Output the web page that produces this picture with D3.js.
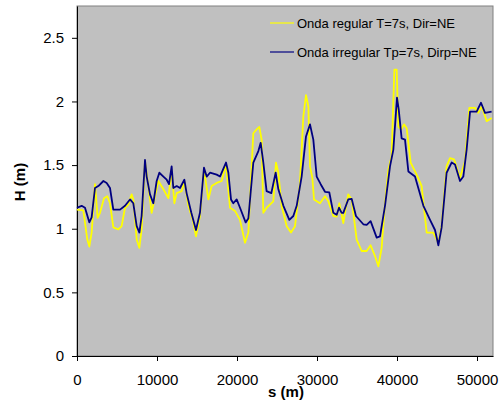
<html>
<script src="https://cdnjs.cloudflare.com/ajax/libs/d3/7.8.5/d3.min.js"></script>
<body style="margin:0;background:white">
<div id="graph"></div>
</body>
<script>
// distance along coast (m) and wave height (m)
var sRegular = [0,790,1290,1540,1830,2250,2580,2875,3375,3790,4125,4540,5170,5580,6000,6420,6830,7040,7460,7790,8080,8500,8920,9330,9750,10170,10800,11420,11830,12170,12460,13080,13420,13920,14460,14875,15370,15875,16420,16830,17460,18080,18625,19125,19750,20375,21000,21420,22040,22460,22790,23080,23290,23700,24540,24870,25170,25580,26210,26750,27250,27875,28290,28625,28920,29125,29420,29625,30375,31000,31420,32040,32460,32790,33290,33500,33900,34330,34960,35580,36210,36700,37250,37670,38080,38500,38920,39330,39670,39960,40170,40500,40875,41210,41710,42460,43080,43710,44540,45170,45580,46200,46625,47125,47875,48500,49040,49750,50170,50600,51210,51830];
var hRegular = [1.15,1.145,0.915,0.86,0.97,1.35,1.085,1.125,1.24,1.255,1.20,1.01,0.995,1.02,1.165,1.19,1.27,1.23,0.915,0.85,0.995,1.53,1.335,1.125,1.255,1.375,1.31,1.24,1.465,1.20,1.28,1.295,1.375,1.18,1.07,0.94,1.10,1.465,1.23,1.335,1.36,1.375,1.505,1.165,1.14,1.07,0.89,0.97,1.75,1.78,1.80,1.70,1.125,1.165,1.215,1.52,1.44,1.18,1.02,0.97,1.02,1.36,1.88,2.05,1.96,1.49,1.40,1.23,1.20,1.255,1.215,1.10,1.095,1.20,1.045,1.125,1.27,1.23,0.915,0.825,0.825,0.87,0.785,0.705,0.85,1.20,1.465,1.57,2.25,2.25,1.80,1.78,1.82,1.79,1.52,1.425,1.335,0.97,0.97,0.89,1.02,1.49,1.555,1.545,1.40,1.53,1.95,1.95,1.91,1.96,1.845,1.87];

var sIrregular = [0,580,1000,1540,1830,2250,2670,3300,3710,4125,4540,5375,6000,6625,7040,7460,7800,8080,8500,8710,9125,9540,9960,10290,10800,11210,11500,11830,12040,12460,12875,13420,13700,14290,14875,15370,15875,16210,16625,17460,17875,18625,18920,19250,19540,19960,20375,21080,21420,22040,22670,22960,23290,23700,24290,24830,25170,25800,26540,27040,27460,28080,28625,29125,29540,29960,30460,31000,31540,32040,32460,32750,33080,33290,33900,34330,34870,35790,36210,36700,37460,37875,38500,39125,39540,40000,40210,40580,41000,41420,42250,43300,44130,44750,45170,45580,46200,46830,47250,47875,48290,48700,49130,49960,50500,51000,51830];
var hIrregular = [1.165,1.18,1.165,1.05,1.09,1.32,1.335,1.375,1.36,1.32,1.15,1.15,1.18,1.23,1.20,1.02,0.97,1.10,1.54,1.41,1.27,1.20,1.375,1.44,1.41,1.385,1.35,1.49,1.32,1.335,1.32,1.385,1.28,1.125,0.99,1.125,1.48,1.41,1.44,1.425,1.41,1.52,1.44,1.23,1.20,1.23,1.165,1.05,1.08,1.52,1.61,1.675,1.52,1.295,1.28,1.44,1.31,1.18,1.07,1.10,1.18,1.41,1.725,1.82,1.70,1.41,1.35,1.29,1.285,1.125,1.11,1.165,1.125,1.125,1.23,1.235,1.10,1.035,1.03,1.06,0.93,0.94,1.18,1.49,1.62,2.03,1.94,1.71,1.70,1.45,1.41,1.18,1.07,0.99,0.87,1.01,1.44,1.52,1.505,1.375,1.41,1.62,1.92,1.92,1.99,1.91,1.92];

var xTicks = [0,10000,20000,30000,40000,50000];
var yTicks = [0,0.5,1,1.5,2,2.5];
var names = ["Onda regular T=7s, Dir=NE", "Onda irregular Tp=7s, Dirp=NE"];
var colors = ["#ffff00", "#000080"];

var W = 501, H = 414;
var m = {left: 77, right: 8, top: 6, bottom: 58};
var FONT = "Liberation Sans, Arial, sans-serif";

var svg = d3.select("#graph").append("svg")
    .attr("width", W).attr("height", H)
    .style("font-family", FONT);

var X = d3.scaleLinear().domain([0, 52000]).range([m.left, W - m.right]);
var Y = d3.scaleLinear().domain([0, 2.75]).range([H - m.bottom, m.top]);

// plot area
svg.append("rect")
    .attr("x", X(0)).attr("y", Y(2.75))
    .attr("width", X(52000) - X(0)).attr("height", Y(0) - Y(2.75))
    .style("fill", "#c0c0c0").style("stroke", "#808080").style("stroke-width", 1);

var xAxis = svg.append("g")
    .attr("transform", "translate(0," + Y(0) + ")")
    .call(d3.axisBottom(X).tickValues(xTicks).tickFormat(d3.format("d")).tickSize(5).tickSizeOuter(0));
var yAxis = svg.append("g")
    .attr("transform", "translate(" + X(0) + ",0)")
    .call(d3.axisLeft(Y).tickValues(yTicks).tickFormat(d => d).tickSize(5).tickSizeOuter(0));

[xAxis, yAxis].forEach(g => {
    g.select(".domain").style("stroke", "#000");
    g.selectAll(".tick line").style("stroke", "#000");
    g.selectAll("text").style("font-size", "15px").style("fill", "#000")
        .style("font-family", FONT);
});
xAxis.selectAll("text").attr("dy", "0.71em").attr("y", 18);
yAxis.selectAll("text").attr("x", -13);

// series
var series = [
    d3.zip(sRegular, hRegular),
    d3.zip(sIrregular, hIrregular)
];
var line = d3.line().x(d => X(d[0])).y(d => Y(d[1]));
series.forEach((s, i) => {
    svg.append("path").datum(s)
        .attr("d", line)
        .style("fill", "none")
        .style("stroke", colors[i])
        .style("stroke-width", 1.8)
        .style("stroke-linejoin", "round");
});

// legend
names.forEach((n, i) => {
    var ly = 23 + i * 29;
    svg.append("line").attr("x1", 270).attr("x2", 294).attr("y1", ly).attr("y2", ly)
        .style("stroke", colors[i]).style("stroke-width", 1.2);
    svg.append("text").attr("x", 297).attr("y", ly + 4.5)
        .style("font-size", "13px").text(n);
});

// axis titles
svg.append("text").attr("x", 286).attr("y", 397)
    .attr("text-anchor", "middle").style("font-size", "15px").style("font-weight", "bold")
    .text("s (m)");
svg.append("text").attr("transform", "translate(25,182) rotate(-90)")
    .attr("text-anchor", "middle").style("font-size", "15px").style("font-weight", "bold")
    .text("H (m)");
</script>
</html>
